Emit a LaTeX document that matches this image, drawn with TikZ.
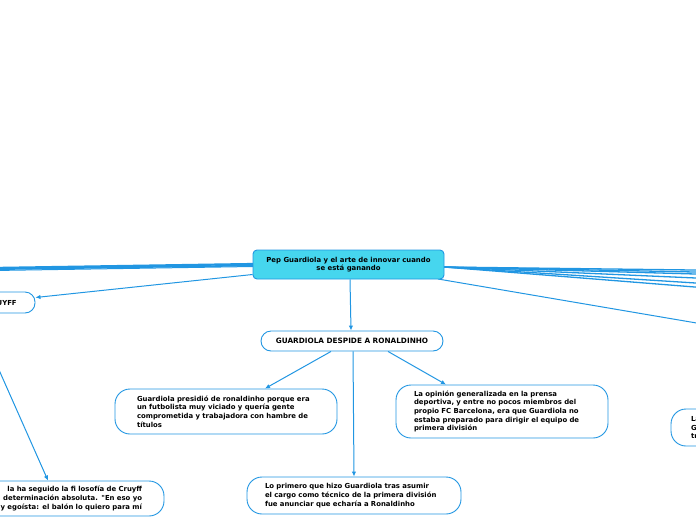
\documentclass[tikz,border=0pt]{standalone}
\usepackage{fontspec}
\setmainfont{DejaVu Sans}[Ligatures=TeXOff]
\usetikzlibrary{arrows.meta}

\definecolor{mapline}{HTML}{2196E2}
\definecolor{mapmain}{HTML}{46D6EE}

\tikzset{
  topic/.style={draw=mapline,line width=0.9pt,fill=mapmain,rounded corners=4pt,
    font=\fontsize{6.9}{8.4}\selectfont\bfseries,align=center,inner sep=0pt},
  subtopic/.style={draw=mapline,line width=0.9pt,fill=white,rounded corners=15pt,
    font=\fontsize{6.9}{8.7}\selectfont\bfseries,inner sep=0pt},
  link/.style={draw=mapline,line width=1pt},
  linkarrow/.style={link,-{Latex[length=5pt,width=4.5pt]}},
}

\begin{document}
\begin{tikzpicture}[x=1pt,y=-1pt,line join=round]
  % Keep the screenshot frame; everything outside is cut off.
  \useasboundingbox (0,0) rectangle (696,520);
  \clip (0,0) rectangle (696,520);

  % Ends of branches that leave the frame.
  \coordinate (left1) at (-300,272.5);
  \coordinate (left2) at (-300,273.5);
  \coordinate (left3) at (-300,275);
  \coordinate (right1) at (760,270.8);
  \coordinate (right2) at (760,273.3);
  \coordinate (right3) at (760,275.8);
  \coordinate (right4) at (760,280.8);
  \coordinate (right5) at (760,287.1);
  \coordinate (right6) at (760,292.2);
  \coordinate (right7) at (760,333.8);

  % Branches first so the boxes sit on top.
  \draw[link,line width=2.2pt] (253,264) -- (left1);
  \draw[link,line width=1.6pt] (253,265.5) -- (left2);
  \draw[link] (253,266.5) -- (left3);
  \foreach \r in {1,...,6}
    \draw[link,line width=1.3pt] (444,267) -- (right\r);
  \draw[link] (438,279) -- (right7);

  % Central topic.
  \node[topic,minimum width=191pt,minimum height=29pt] (central) at (348.5,264.5)
    {Pep Guardiola y el arte de innovar cuando\\se está ganando};

  % Sub-topics.
  \node[subtopic,rounded corners=10pt,minimum width=182pt,minimum height=20pt,
    font=\fontsize{7.3}{8.7}\selectfont\bfseries] (despide) at (352,341)
    {GUARDIOLA DESPIDE A RONALDINHO};
  \node[subtopic,minimum width=120pt,minimum height=21pt,rounded corners=10pt] (cruyff) at (-25,302.5)
    {\hspace*{53pt}CRUYFF};
  \node[subtopic,minimum width=222pt,minimum height=45pt,text width=178pt,align=left] (presidio) at (226,411.5)
    {Guardiola presidió de ronaldinho porque era\\un futbolista muy viciado y quería gente\\comprometida y trabajadora con hambre de\\títulos};
  \node[subtopic,minimum width=212pt,minimum height=53pt,text width=176pt,align=left] (opinion) at (502,411.5)
    {La opinión generalizada en la prensa\\deportiva, y entre no pocos miembros del\\propio FC Barcelona, era que Guardiola no\\estaba preparado para dirigir el equipo de\\primera división};
  \node[subtopic,minimum width=214pt,minimum height=37pt,text width=178pt,align=left] (primero) at (354,495.5)
    {Lo primero que hizo Guardiola tras asumir\\el cargo como técnico de la primera división\\fue anunciar que echaría a Ronaldinho};
  \node[subtopic,minimum width=260pt,minimum height=35pt,text width=216pt,align=right] (filosofia) at (34,498.5)
    {la ha seguido la fi losofía de Cruyff\\determinación absoluta. "En eso yo\\y egoísta: el balón lo quiero para mí};
  \node[subtopic,minimum width=200pt,minimum height=37pt,text width=160pt,align=left] (derecha) at (771,427.5)
    {La\\G\\tr};

  % Arrows between topics.
  \draw[linkarrow] ([yshift=-10pt]central.west) -- ([yshift=5pt]cruyff.east);
  \draw[linkarrow] ([xshift=1.5pt]central.south) -- ([xshift=-1pt]despide.north);
  \draw[linkarrow] ([xshift=-21pt]despide.south) -- ([xshift=39pt]presidio.north);
  \draw[linkarrow] ([xshift=36pt]despide.south) -- ([xshift=-56pt]opinion.north);
  \draw[linkarrow] ([xshift=1pt]despide.south) -- (primero.north);
  \draw[linkarrow] ([xshift=-1pt]cruyff.south) -- ([xshift=14pt]filosofia.north);
\end{tikzpicture}
\end{document}
